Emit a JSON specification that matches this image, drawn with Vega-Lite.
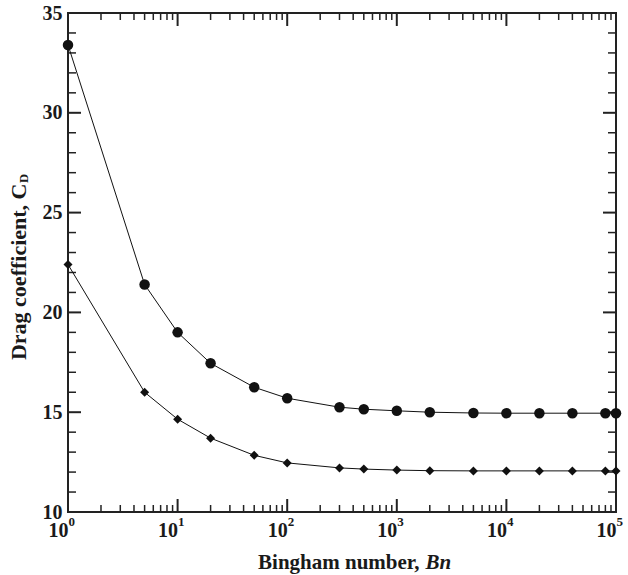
{
  "$schema": "https://vega.github.io/schema/vega-lite/v6.json",
  "width": 548,
  "height": 499,
  "autosize": {"type": "none"},
  "padding": {"left": 68, "top": 13, "right": 12, "bottom": 63},
  "background": "white",
  "config": {
    "view": {"stroke": "#222222", "strokeWidth": 2},
    "axis": {
      "labelFont": "Liberation Serif",
      "labelFontWeight": "bold",
      "titleFont": "Liberation Serif",
      "titleFontWeight": "bold",
      "labelColor": "#1a1a1a",
      "titleColor": "#1a1a1a",
      "domain": false,
      "grid": false,
      "ticks": false,
      "labelOverlap": false,
      "labelFlush": false,
      "labelBound": false
    }
  },
  "datasets": {
    "curves": [
      {"Bn": 1, "CD": 33.4, "series": "circle"},
      {"Bn": 5, "CD": 21.4, "series": "circle"},
      {"Bn": 10, "CD": 19.0, "series": "circle"},
      {"Bn": 20, "CD": 17.45, "series": "circle"},
      {"Bn": 50, "CD": 16.25, "series": "circle"},
      {"Bn": 100, "CD": 15.7, "series": "circle"},
      {"Bn": 300, "CD": 15.25, "series": "circle"},
      {"Bn": 500, "CD": 15.15, "series": "circle"},
      {"Bn": 1000, "CD": 15.07, "series": "circle"},
      {"Bn": 2000, "CD": 15.0, "series": "circle"},
      {"Bn": 5000, "CD": 14.96, "series": "circle"},
      {"Bn": 10000, "CD": 14.95, "series": "circle"},
      {"Bn": 20000, "CD": 14.95, "series": "circle"},
      {"Bn": 40000, "CD": 14.95, "series": "circle"},
      {"Bn": 80000, "CD": 14.95, "series": "circle"},
      {"Bn": 100000, "CD": 14.95, "series": "circle"},
      {"Bn": 1, "CD": 22.4, "series": "diamond"},
      {"Bn": 5, "CD": 16.0, "series": "diamond"},
      {"Bn": 10, "CD": 14.65, "series": "diamond"},
      {"Bn": 20, "CD": 13.7, "series": "diamond"},
      {"Bn": 50, "CD": 12.84, "series": "diamond"},
      {"Bn": 100, "CD": 12.46, "series": "diamond"},
      {"Bn": 300, "CD": 12.21, "series": "diamond"},
      {"Bn": 500, "CD": 12.15, "series": "diamond"},
      {"Bn": 1000, "CD": 12.1, "series": "diamond"},
      {"Bn": 2000, "CD": 12.07, "series": "diamond"},
      {"Bn": 5000, "CD": 12.06, "series": "diamond"},
      {"Bn": 10000, "CD": 12.06, "series": "diamond"},
      {"Bn": 20000, "CD": 12.06, "series": "diamond"},
      {"Bn": 40000, "CD": 12.06, "series": "diamond"},
      {"Bn": 80000, "CD": 12.06, "series": "diamond"},
      {"Bn": 100000, "CD": 12.06, "series": "diamond"}
    ],
    "xmajor": [{"v": 10}, {"v": 100}, {"v": 1000}, {"v": 10000}],
    "xminor": [
      {"v": 2}, {"v": 3}, {"v": 4}, {"v": 5}, {"v": 6}, {"v": 7}, {"v": 8}, {"v": 9},
      {"v": 20}, {"v": 30}, {"v": 40}, {"v": 50}, {"v": 60}, {"v": 70}, {"v": 80}, {"v": 90},
      {"v": 200}, {"v": 300}, {"v": 400}, {"v": 500}, {"v": 600}, {"v": 700}, {"v": 800}, {"v": 900},
      {"v": 2000}, {"v": 3000}, {"v": 4000}, {"v": 5000}, {"v": 6000}, {"v": 7000}, {"v": 8000}, {"v": 9000},
      {"v": 20000}, {"v": 30000}, {"v": 40000}, {"v": 50000}, {"v": 60000}, {"v": 70000}, {"v": 80000}, {"v": 90000}
    ],
    "ymajor": [{"v": 15}, {"v": 20}, {"v": 25}, {"v": 30}],
    "yminor": [
      {"v": 11}, {"v": 12}, {"v": 13}, {"v": 14}, {"v": 16}, {"v": 17}, {"v": 18}, {"v": 19},
      {"v": 21}, {"v": 22}, {"v": 23}, {"v": 24}, {"v": 26}, {"v": 27}, {"v": 28}, {"v": 29},
      {"v": 31}, {"v": 32}, {"v": 33}, {"v": 34}
    ]
  },
  "resolve": {"axis": {"x": "independent", "y": "independent"}},
  "layer": [
    {
      "data": {"name": "xmajor"},
      "mark": {"type": "rule", "color": "#222222", "strokeWidth": 2},
      "encoding": {
        "x": {"field": "v", "type": "quantitative", "scale": {"type": "log", "domain": [1, 100000], "nice": false}, "axis": null},
        "y": {"datum": 10, "type": "quantitative", "scale": {"domain": [10, 35], "nice": false, "zero": false}, "axis": null},
        "y2": {"datum": 10.65}
      }
    },
    {
      "data": {"name": "xmajor"},
      "mark": {"type": "rule", "color": "#222222", "strokeWidth": 2},
      "encoding": {
        "x": {"field": "v", "type": "quantitative", "scale": {"type": "log", "domain": [1, 100000], "nice": false}, "axis": null},
        "y": {"datum": 35, "type": "quantitative", "scale": {"domain": [10, 35], "nice": false, "zero": false}, "axis": null},
        "y2": {"datum": 34.35}
      }
    },
    {
      "data": {"name": "xminor"},
      "mark": {"type": "rule", "color": "#222222", "strokeWidth": 1.5},
      "encoding": {
        "x": {"field": "v", "type": "quantitative", "scale": {"type": "log", "domain": [1, 100000], "nice": false}, "axis": null},
        "y": {"datum": 10, "type": "quantitative", "scale": {"domain": [10, 35], "nice": false, "zero": false}, "axis": null},
        "y2": {"datum": 10.35}
      }
    },
    {
      "data": {"name": "xminor"},
      "mark": {"type": "rule", "color": "#222222", "strokeWidth": 1.5},
      "encoding": {
        "x": {"field": "v", "type": "quantitative", "scale": {"type": "log", "domain": [1, 100000], "nice": false}, "axis": null},
        "y": {"datum": 35, "type": "quantitative", "scale": {"domain": [10, 35], "nice": false, "zero": false}, "axis": null},
        "y2": {"datum": 34.65}
      }
    },
    {
      "data": {"name": "ymajor"},
      "mark": {"type": "rule", "color": "#222222", "strokeWidth": 2},
      "encoding": {
        "y": {"field": "v", "type": "quantitative", "scale": {"domain": [10, 35], "nice": false, "zero": false}, "axis": null},
        "x": {"datum": 1, "type": "quantitative", "scale": {"type": "log", "domain": [1, 100000], "nice": false}, "axis": null},
        "x2": {"datum": 1.314}
      }
    },
    {
      "data": {"name": "ymajor"},
      "mark": {"type": "rule", "color": "#222222", "strokeWidth": 2},
      "encoding": {
        "y": {"field": "v", "type": "quantitative", "scale": {"domain": [10, 35], "nice": false, "zero": false}, "axis": null},
        "x": {"datum": 100000, "type": "quantitative", "scale": {"type": "log", "domain": [1, 100000], "nice": false}, "axis": null},
        "x2": {"datum": 76100}
      }
    },
    {
      "data": {"name": "yminor"},
      "mark": {"type": "rule", "color": "#222222", "strokeWidth": 1.5},
      "encoding": {
        "y": {"field": "v", "type": "quantitative", "scale": {"domain": [10, 35], "nice": false, "zero": false}, "axis": null},
        "x": {"datum": 1, "type": "quantitative", "scale": {"type": "log", "domain": [1, 100000], "nice": false}, "axis": null},
        "x2": {"datum": 1.183}
      }
    },
    {
      "data": {"name": "yminor"},
      "mark": {"type": "rule", "color": "#222222", "strokeWidth": 1.5},
      "encoding": {
        "y": {"field": "v", "type": "quantitative", "scale": {"domain": [10, 35], "nice": false, "zero": false}, "axis": null},
        "x": {"datum": 100000, "type": "quantitative", "scale": {"type": "log", "domain": [1, 100000], "nice": false}, "axis": null},
        "x2": {"datum": 84500}
      }
    },
    {
      "data": {"name": "curves"},
      "transform": [{"filter": "datum.series == 'circle'"}],
      "mark": {"type": "line", "color": "#111111", "strokeWidth": 1},
      "encoding": {
        "x": {
          "field": "Bn", "type": "quantitative",
          "scale": {"type": "log", "domain": [1, 100000], "nice": false},
          "axis": {
            "orient": "bottom", "values": [1, 10, 100, 1000, 10000, 100000],
            "labelExpr": "'10'",
            "labelAlign": "right", "labelDx": 4, "labelBaseline": "alphabetic",
            "labelPadding": 24, "labelFontSize": 20,
            "title": "Bingham number,", "titleFontSize": 21,
            "titleX": 351, "titleY": 56, "titleAlign": "right", "titleBaseline": "alphabetic"
          }
        },
        "y": {
          "field": "CD", "type": "quantitative",
          "scale": {"domain": [10, 35], "nice": false, "zero": false},
          "axis": {
            "orient": "left", "values": [10, 15, 20, 25, 30, 35],
            "labelPadding": 6, "labelFontSize": 20, "labelBaseline": "middle",
            "title": "Drag coefficient, C", "titleFontSize": 22, "titleAngle": 270,
            "titleAlign": "right", "titleBaseline": "alphabetic", "titleX": -43, "titleY": 170
          }
        }
      }
    },
    {
      "data": {"name": "curves"},
      "transform": [{"filter": "datum.series == 'diamond'"}],
      "mark": {"type": "line", "color": "#111111", "strokeWidth": 1},
      "encoding": {
        "x": {"field": "Bn", "type": "quantitative", "scale": {"type": "log", "domain": [1, 100000], "nice": false}, "axis": null},
        "y": {"field": "CD", "type": "quantitative", "scale": {"domain": [10, 35], "nice": false, "zero": false}, "axis": null}
      }
    },
    {
      "data": {"name": "curves"},
      "transform": [{"filter": "datum.series == 'circle'"}],
      "mark": {"type": "point", "shape": "circle", "filled": true, "color": "#111111", "opacity": 1, "size": 110},
      "encoding": {
        "x": {"field": "Bn", "type": "quantitative", "scale": {"type": "log", "domain": [1, 100000], "nice": false}, "axis": null},
        "y": {"field": "CD", "type": "quantitative", "scale": {"domain": [10, 35], "nice": false, "zero": false}, "axis": null}
      }
    },
    {
      "data": {"name": "curves"},
      "transform": [{"filter": "datum.series == 'diamond'"}],
      "mark": {"type": "point", "shape": "diamond", "filled": true, "color": "#111111", "opacity": 1, "size": 81},
      "encoding": {
        "x": {"field": "Bn", "type": "quantitative", "scale": {"type": "log", "domain": [1, 100000], "nice": false}, "axis": null},
        "y": {"field": "CD", "type": "quantitative", "scale": {"domain": [10, 35], "nice": false, "zero": false}, "axis": null}
      }
    },
    {
      "data": {"name": "curves"},
      "mark": {"type": "point", "opacity": 0},
      "encoding": {
        "x": {
          "field": "Bn", "type": "quantitative",
          "scale": {"type": "log", "domain": [1, 100000], "nice": false},
          "axis": {
            "orient": "bottom", "values": [1, 10, 100, 1000, 10000, 100000],
            "labelExpr": "'' + round(log(datum.value) / LN10)",
            "labelAlign": "left", "labelDx": 5, "labelBaseline": "alphabetic",
            "labelPadding": 13, "labelFontSize": 13,
            "title": "Bn", "titleFontSize": 21, "titleFontStyle": "italic",
            "titleX": 357, "titleY": 56, "titleAlign": "left", "titleBaseline": "alphabetic"
          }
        },
        "y": {
          "field": "CD", "type": "quantitative",
          "scale": {"domain": [10, 35], "nice": false, "zero": false},
          "axis": {
            "orient": "left", "values": [10, 35],
            "labels": false,
            "title": "D", "titleFontSize": 12.5, "titleAngle": 270,
            "titleAlign": "left", "titleBaseline": "alphabetic", "titleX": -40.5, "titleY": 169.5
          }
        }
      }
    }
  ]
}
